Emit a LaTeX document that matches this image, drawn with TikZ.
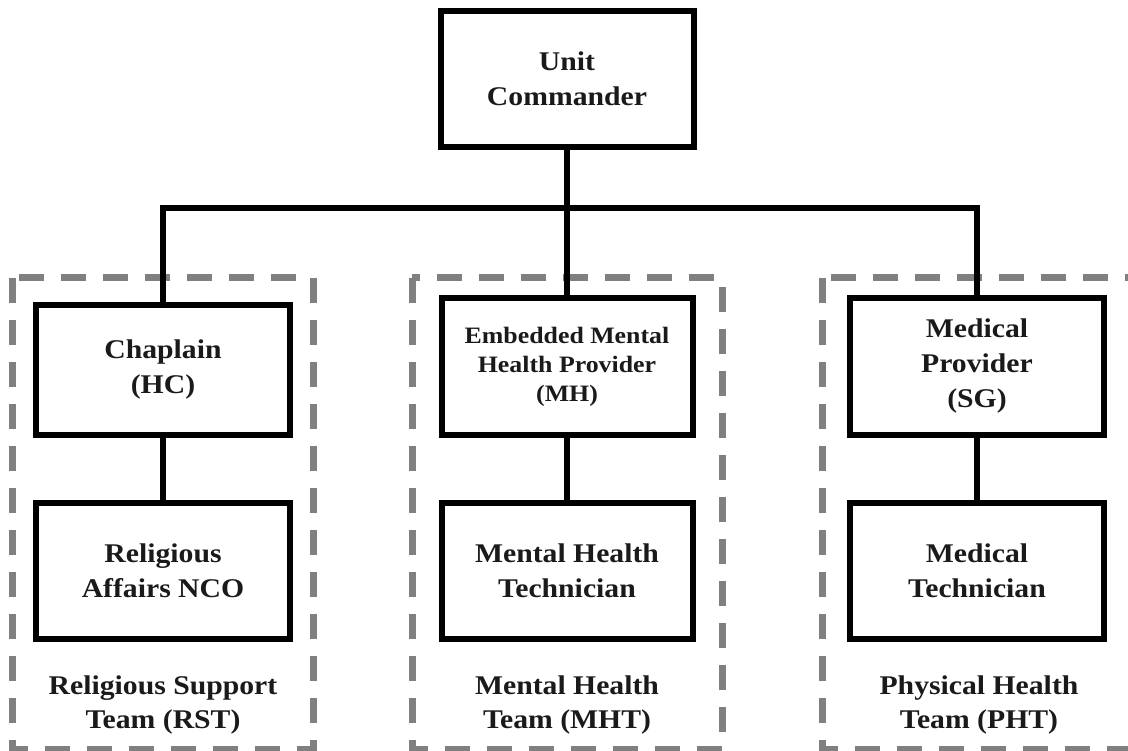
\documentclass[tikz,border=0pt]{standalone}
\usepackage{fontspec}
\setmainfont{Liberation Serif}[FakeStretch=1.1]
\definecolor{dashgray}{HTML}{808080}
\definecolor{ink}{HTML}{1A1A1A}
\begin{document}
\begin{tikzpicture}[x=1pt,y=-1pt,
  box/.style={draw=black, fill=white, line width=6pt, minimum width=254pt, minimum height=136pt,
    align=center, inner sep=0pt, text=ink, font=\fontsize{27}{35}\selectfont\bfseries},
  smallbox/.style={box, font=\fontsize{23.5}{29}\selectfont\bfseries},
  lbl/.style={align=center, inner sep=0pt, text=ink, font=\fontsize{27}{34}\selectfont\bfseries},
  teambox/.style={draw=dashgray, line width=7pt, dash pattern=on 25pt off 17pt},
  link/.style={draw=black, line width=6pt}]
\useasboundingbox (0,0) rectangle (1128,751);
\clip (0,0) rectangle (1128,751);
\fill[white] (0,0) rectangle (1128,751);
% team frames
\draw[teambox] (12,278) rectangle (313,749);
\draw[teambox] (412,278) rectangle (722,749);
\draw[teambox] (822,278) rectangle (1145,749);
% nodes
\node[box, minimum width=253pt] (uc) at (567,79) {Unit\\Commander};
\node[box, minimum height=130pt] (hc) at (163,370) {Chaplain\\(HC)};
\node[box] (nco) at (163,571) {Religious\\Affairs NCO};
\node[smallbox, minimum width=251pt, minimum height=137pt] (mh) at (567,366.5) {Embedded Mental\\Health Provider\\(MH)};
\node[box, minimum width=251pt] (mht) at (567,571) {Mental Health\\Technician};
\node[box, minimum height=137pt] (sg) at (977,366.5) {Medical\\Provider\\(SG)};
\node[box] (mt) at (977,571) {Medical\\Technician};
\node[lbl] (rst) at (163,705) {Religious Support\\Team (RST)};
\node[lbl] (mhtl) at (567,705) {Mental Health\\Team (MHT)};
\node[lbl] (pht) at (979,705) {Physical Health\\Team (PHT)};
\coordinate (bar) at (567,208);
% connectors
\draw[link] (uc.south) -- (mh.north);
\draw[link] (hc.north) -- (hc.north |- bar) -- (sg.north |- bar) -- (sg.north);
\draw[link] (hc) -- (nco);
\draw[link] (mh) -- (mht);
\draw[link] (sg) -- (mt);
\end{tikzpicture}
\end{document}
